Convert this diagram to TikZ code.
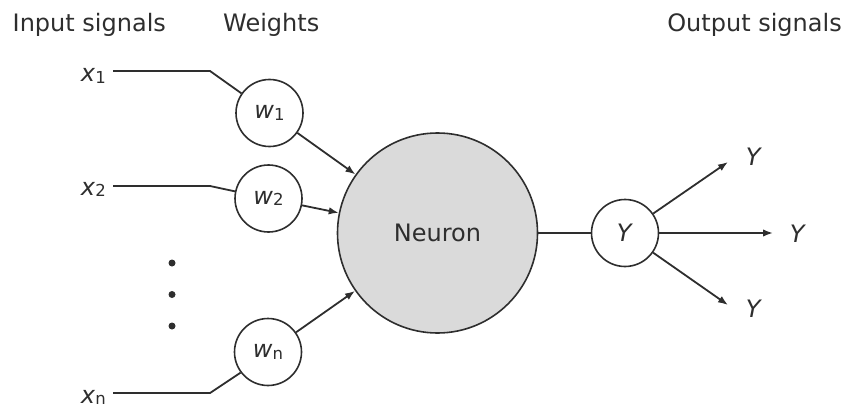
\documentclass[tikz,border=0pt]{standalone}
\usepackage{fontspec}
\setmainfont{DejaVu Sans}
\usetikzlibrary{arrows.meta}
\definecolor{ink}{HTML}{2E2E2E}
\definecolor{neurongray}{HTML}{DADADA}
\newcommand{\lblsub}[2]{\textit{#1}\raisebox{-1.5pt}{\fontsize{16.5}{16.5}\selectfont #2}}
\begin{document}
\begin{tikzpicture}[x=1pt,y=-1pt,
  font=\fontsize{24}{28}\selectfont,
  every node/.style={text=ink},
  line/.style={draw=ink, line width=1.8pt},
  arr/.style={line, -{Latex[length=10pt,width=7.5pt]}},
  wnode/.style={circle, draw=ink, line width=1.6pt, minimum size=67pt, inner sep=0pt, fill=white},
  bignode/.style={circle, draw=ink, line width=1.6pt, minimum size=200pt, inner sep=0pt, fill=neurongray},
  title/.style={inner sep=0pt},
  lab/.style={inner sep=0pt},
  dotnode/.style={circle, fill=ink, minimum size=7pt, inner sep=0pt}
]
\useasboundingbox (0,0) rectangle (848,409);

% titles
\node[title, anchor=base west] (tin) at (12.5,31.7) {Input signals};
\node[title, anchor=base west] (tw) at (223,31.7) {Weights};
\node[title, anchor=base east] (tout) at (842,32) {Output signals};

% input labels
\node[lab, anchor=base east] (x1) at (106,82) {\lblsub{x}{1}};
\node[lab, anchor=base east] (x2) at (106,195) {\lblsub{x}{2}};
\node[lab, anchor=base east] (xn) at (106,403) {\lblsub{x}{n}};

% weights
\node[wnode] (w1) at (269.5,113) {\lblsub{w}{1}};
\node[wnode] (w2) at (268.5,198.5) {\lblsub{w}{2}};
\node[wnode] (wn) at (268,352) {\lblsub{w}{n}};

% dots
\node[dotnode] (d1) at (172,263) {};
\node[dotnode] (d2) at (172,294.5) {};
\node[dotnode] (d3) at (172,326) {};

% neuron and output
\node[bignode] (N) at (437.5,233) {Neuron};
\node[wnode] (Y) at (625,233) {\textit{Y}};

% output label nodes
\node[lab] (Y1) at (754,157) {\textit{Y}};
\node[lab] (Y2) at (798,234) {\textit{Y}};
\node[lab] (Y3) at (754,309) {\textit{Y}};

% coordinates
\coordinate (x1s) at (113,71);
\coordinate (x1k) at (210,71);
\coordinate (x2s) at (113,186);
\coordinate (x2k) at (210,186);
\coordinate (xns) at (113,393);
\coordinate (xnk) at (210,393);
\coordinate (yo1) at (728,162);
\coordinate (yo2) at (773,233);
\coordinate (yo3) at (728,305);

% connectors
\draw[line] (x1s) -- (x1k) -- (w1.145);
\draw[line] (x2s) -- (x2k) -- (w2.168);
\draw[line] (xns) -- (xnk) -- (wn.217);

\draw[arr] (w1) -- (N);
\draw[arr] (w2) -- (N);
\draw[arr] (wn) -- (N);

\draw[line] (N) -- (Y);
\draw[arr] (Y) -- (yo1);
\draw[arr] (Y) -- (yo2);
\draw[arr] (Y) -- (yo3);
\end{tikzpicture}
\end{document}
